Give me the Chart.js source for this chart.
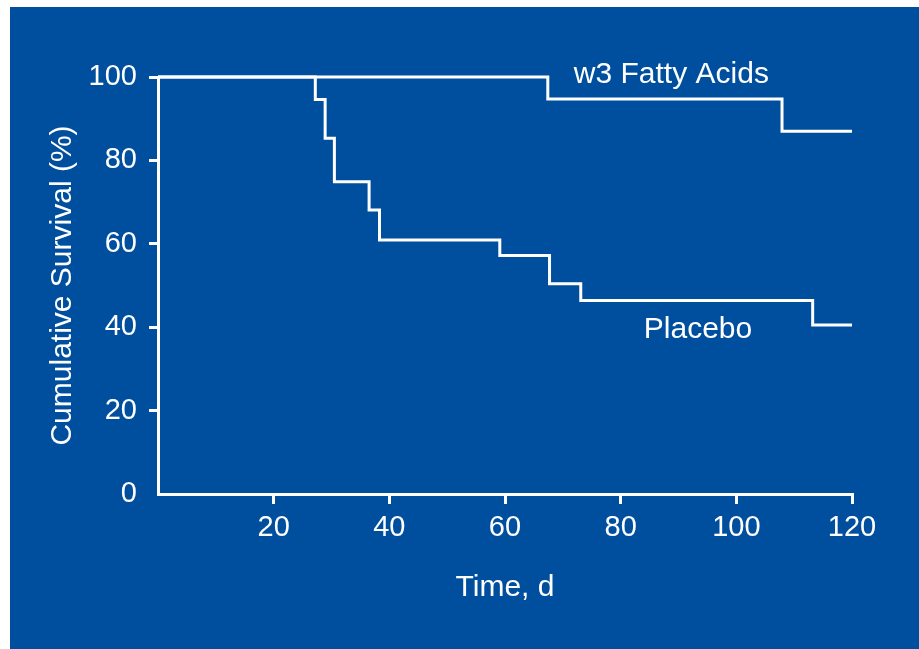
<!DOCTYPE html>
<html>
<head>
<meta charset="utf-8">
<script src="https://cdn.jsdelivr.net/npm/chart.js@4.4.1/dist/chart.umd.min.js"></script>
<style>
  html, body { margin: 0; padding: 0; background: #fff; }
  canvas { display: block; }
</style>
</head>
<body>
<canvas id="survivalChart" width="919" height="649"></canvas>
<script>
// --- dados ---
const omegaTimes = [0, 67.4, 107.9, 120];
const omegaSurvival = [100, 94.7, 87.0, 87.0];
const placeboTimes = [0, 27.2, 28.9, 30.5, 36.5, 38.3, 59.1, 67.7, 73.1, 113.2, 120];
const placeboSurvival = [100, 94.6, 85.3, 74.9, 68.1, 60.9, 57.2, 50.4, 46.4, 40.5, 40.5];
const xTicks = [20, 40, 60, 80, 100, 120];
const yTicks = [0, 20, 40, 60, 80, 100];
const curveLabels = ['w3 Fatty Acids', 'Placebo'];
const labelAnchors = [[71.9, 100.5], [84, 39.3]];

const BLUE = '#004f9f';
const WHITE = '#ffffff';
const FONT = "'Liberation Sans', Arial, Helvetica, sans-serif";

const toPoints = (xs, ys) => xs.map((x, i) => ({ x: x, y: ys[i] }));

// fundo azul com margem branca
const backgroundPlugin = {
    id: 'bluePanel',
    beforeDraw(chart) {
        const ctx = chart.ctx;
        ctx.save();
        ctx.fillStyle = WHITE;
        ctx.fillRect(0, 0, chart.width, chart.height);
        ctx.fillStyle = BLUE;
        ctx.fillRect(10, 7, chart.width - 10, chart.height - 7);
        ctx.restore();
    }
};

// rótulos das curvas
const curveLabelPlugin = {
    id: 'curveLabels',
    afterDatasetsDraw(chart) {
        const ctx = chart.ctx;
        const xs = chart.scales.x, ys = chart.scales.y;
        ctx.save();
        ctx.fillStyle = WHITE;
        ctx.font = '30px ' + FONT;
        ctx.textAlign = 'left';
        ctx.textBaseline = 'middle';
        curveLabels.forEach((txt, i) => {
            ctx.fillText(txt, xs.getPixelForValue(labelAnchors[i][0]), ys.getPixelForValue(labelAnchors[i][1]));
        });
        ctx.restore();
    }
};

const lineStyle = { borderColor: WHITE, borderWidth: 3, pointRadius: 0, stepped: 'before', fill: false, clip: 6 };

new Chart(document.getElementById('survivalChart').getContext('2d'), {
    type: 'scatter',
    data: {
        datasets: [
            Object.assign({ label: curveLabels[0], data: toPoints(omegaTimes, omegaSurvival), showLine: true }, lineStyle),
            Object.assign({ label: curveLabels[1], data: toPoints(placeboTimes, placeboSurvival), showLine: true }, lineStyle)
        ]
    },
    options: {
        responsive: false,
        animation: false,
        devicePixelRatio: 1,
        layout: { padding: { left: 0, top: 77, right: 67, bottom: 0 } },
        plugins: { legend: { display: false }, tooltip: { enabled: false } },
        scales: {
            x: {
                type: 'linear', min: 0, max: 120,
                afterFit: (s) => { s.height = 155; },
                afterBuildTicks: (s) => { s.ticks = xTicks.map(v => ({ value: v })); },
                border: { color: WHITE, width: 3 },
                grid: { drawOnChartArea: false, drawTicks: true, tickLength: 10, color: WHITE, lineWidth: 3 },
                ticks: { color: WHITE, font: { family: FONT, size: 29 }, padding: 7, maxRotation: 0 },
                title: { display: true, text: 'Time, d', color: WHITE, font: { family: FONT, size: 30 }, padding: { top: 0, bottom: 43 } }
            },
            y: {
                type: 'linear', min: 0, max: 100,
                afterFit: (s) => { s.width = 158; },
                afterBuildTicks: (s) => { s.ticks = yTicks.map(v => ({ value: v })); },
                border: { color: WHITE, width: 3 },
                grid: { drawOnChartArea: false, drawTicks: true, tickLength: 9, color: (c) => (c.tick && c.tick.value === 0 ? 'rgba(0,0,0,0)' : WHITE), lineWidth: 3 },
                ticks: { color: WHITE, font: { family: FONT, size: 29 }, padding: 12 },
                title: { display: true, text: 'Cumulative Survival (%)', color: WHITE, font: { family: FONT, size: 30 }, padding: { top: 45, bottom: 0 } }
            }
        }
    },
    plugins: [backgroundPlugin, curveLabelPlugin]
});
</script>
</body>
</html>
